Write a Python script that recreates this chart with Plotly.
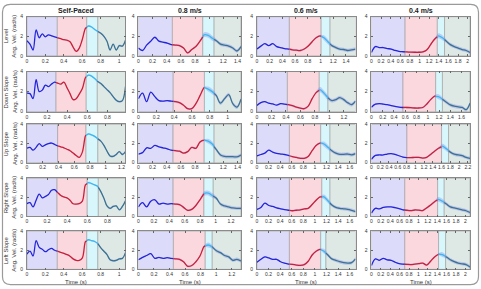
import numpy as np
import plotly.graph_objects as go

W, H = 481, 289

CONDITIONS = ["Self-Paced", "0.8 m/s", "0.6 m/s", "0.4 m/s"]
SURFACES = ["Level", "Down Slope", "Up Slope", "Right Slope", "Left Slope"]

# trial duration shown on x axis (s), per condition
XMAX_LEVEL = [1.07, 1.45, 1.55, 2.05]
XMAX_DOWN = [0.98, 1.15, 1.36, 1.75]
XMAX_UP = [1.25, 1.45, 1.70, 2.25]
XMAX_RIGHT = [0.98, 1.33, 1.70, 2.10]
XMAX_LEFT = [1.07, 1.32, 1.70, 2.10]

# phase boundaries (s): start of red, cyan and grey phases
PHASES_LEVEL = [[0.33, 0.65, 0.77], [0.48, 0.91, 1.07], [0.51, 1.01, 1.15], [0.70, 1.37, 1.52]]
PHASES_DOWN = [[0.29, 0.59, 0.70], [0.39, 0.74, 0.85], [0.42, 0.86, 0.98], [0.56, 1.14, 1.26]]
PHASES_UP = [[0.39, 0.75, 0.90], [0.49, 0.93, 1.07], [0.56, 1.10, 1.26], [0.81, 1.60, 1.76]]
PHASES_RIGHT = [[0.30, 0.60, 0.71], [0.45, 0.85, 0.97], [0.56, 1.12, 1.26], [0.71, 1.41, 1.55]]
PHASES_LEFT = [[0.33, 0.65, 0.77], [0.45, 0.86, 0.95], [0.56, 1.10, 1.19], [0.71, 1.43, 1.58]]

# mean angular velocity (rad/s), evenly spaced samples over each trial
LEVEL_SELF = [1.55, 1.2, 0.6, 2.65, 1.85, 2.25, 1.95, 2.15, 2.05, 1.95, 1.85, 1.75, 1.65, 1.6, 1.45, 0.9, 0.45,
              0.8, 1.7, 2.8, 3.05, 2.95, 2.7, 2.5, 2.3, 2.0, 1.5, 0.6, 1.2, 0.6, 1.05, 1.0, 1.6]
LEVEL_08 = [0.8, 0.55, 1.1, 1.5, 1.9, 1.5, 1.4, 1.3, 1.15, 1.1, 1.05, 0.8, 0.3, 0.65, 0.95, 1.5, 2.15, 2.1, 1.8,
            1.55, 1.2, 1.1, 1.0, 0.8, 0.5, 0.95]
LEVEL_06 = [0.7, 1.0, 1.25, 1.05, 1.25, 0.95, 0.85, 0.75, 0.7, 0.62, 0.58, 0.55, 0.7, 1.0, 1.45, 1.85, 2.05, 1.85,
            1.45, 1.05, 0.85, 0.7, 0.65, 0.55, 0.62, 0.7]
LEVEL_04 = [0.35, 0.95, 0.85, 0.85, 0.75, 0.7, 0.55, 0.45, 0.42, 0.4, 0.38, 0.37, 0.37, 0.4, 0.6, 1.15, 1.7, 2.05,
            1.85, 1.5, 1.15, 0.95, 0.8, 0.65, 0.55, 0.35]

DOWN_SELF = [1.85, 1.8, 1.3, 3.2, 2.0, 2.15, 2.65, 2.5, 2.75, 2.95, 2.85, 2.75, 2.95, 2.4, 1.8, 1.2, 1.3, 1.75, 2.3,
             3.4, 3.65, 3.55, 3.3, 3.0, 2.8, 2.5, 2.2, 1.9, 1.5, 1.15, 1.0, 1.1, 2.5]
DOWN_08 = [1.3, 1.85, 1.0, 1.95, 1.5, 1.1, 1.05, 1.1, 1.05, 1.0, 0.9, 0.65, 0.3, 0.3, 0.8, 1.6, 2.4, 2.25, 2.0, 1.6,
           0.85, 1.3, 1.7, 0.8, 0.45, 1.25]
DOWN_06 = [0.62, 0.9, 1.0, 0.85, 0.78, 0.65, 0.8, 0.75, 0.7, 0.6, 0.45, 0.35, 0.3, 0.55, 1.3, 1.9, 2.2, 1.85, 1.4,
           1.1, 1.2, 1.4, 1.2, 0.9, 0.7, 1.05]
DOWN_04 = [0.45, 0.75, 0.8, 0.75, 0.7, 0.6, 0.52, 0.45, 0.42, 0.42, 0.4, 0.37, 0.37, 0.42, 0.75, 1.2, 1.55, 1.5,
           1.25, 0.95, 0.68, 0.55, 0.48, 0.42, 0.2, 0.85]

UP_SELF = [1.5, 1.6, 1.3, 1.6, 2.0, 1.7, 1.85, 2.0, 2.05, 1.9, 1.75, 1.65, 1.55, 1.4, 1.25, 1.0, 0.75, 0.55, 1.1,
           2.8, 3.0, 2.9, 2.75, 2.5, 2.25, 1.8, 1.2, 0.7, 0.65, 0.85, 1.15, 0.85, 1.15]
UP_08 = [0.9, 1.05, 1.55, 1.5, 1.8, 1.65, 1.55, 1.45, 1.3, 1.25, 1.2, 1.0, 1.15, 1.6, 1.5, 2.15, 2.35, 2.25, 1.95,
         1.35, 0.8, 0.65, 0.62, 0.62, 0.6, 0.8]
UP_06 = [0.7, 0.85, 1.0, 1.3, 1.1, 0.97, 0.9, 0.85, 0.75, 0.62, 0.55, 0.45, 0.45, 0.65, 1.25, 1.8, 2.05, 1.95, 1.6,
         1.25, 1.0, 0.87, 0.87, 0.9, 0.82, 0.95]
UP_04 = [0.35, 0.75, 0.8, 0.8, 0.9, 0.95, 0.85, 0.72, 0.58, 0.52, 0.52, 0.55, 0.55, 0.48, 0.55, 0.85, 1.2, 1.5, 1.72,
         1.45, 1.1, 0.88, 0.8, 0.72, 0.55, 0.45]

RIGHT_SELF = [1.35, 1.45, 1.0, 1.7, 2.35, 1.95, 2.1, 2.3, 2.75, 2.8, 2.5, 2.2, 2.05, 1.95, 1.7, 1.33, 1.3, 1.35, 1.6,
              3.3, 3.55, 3.45, 3.3, 3.15, 2.6, 1.9, 1.1, 0.85, 1.05, 1.1, 0.7, 1.05, 1.65]
RIGHT_08 = [1.0, 1.45, 1.0, 1.6, 1.75, 1.3, 1.4, 1.3, 1.35, 1.3, 1.25, 0.95, 0.65, 0.75, 1.15, 1.75, 2.4, 2.45, 2.2,
            1.9, 1.3, 1.1, 1.0, 0.9, 0.85, 0.85]
RIGHT_06 = [0.75, 0.95, 1.4, 1.15, 1.05, 0.9, 0.8, 0.72, 0.65, 0.6, 0.65, 0.7, 0.8, 0.85, 1.25, 1.7, 2.05, 2.05, 1.65,
            1.2, 0.95, 0.85, 0.8, 0.75, 0.65, 0.52]
RIGHT_04 = [0.35, 0.85, 0.8, 0.95, 1.0, 1.0, 0.92, 0.82, 0.7, 0.65, 0.62, 0.68, 0.66, 0.62, 0.9, 1.2, 1.55, 1.8, 1.6,
            1.3, 1.0, 0.9, 0.8, 0.7, 0.6, 0.42]

LEFT_SELF = [1.6, 1.9, 1.4, 3.0, 2.3, 2.1, 1.85, 2.05, 2.2, 2.0, 1.9, 1.78, 1.68, 1.55, 1.38, 1.1, 0.95, 0.93, 1.2,
             2.9, 3.1, 3.0, 2.92, 2.7, 2.25, 1.9, 1.55, 1.0, 0.9, 0.95, 1.1, 1.15, 1.75]
LEFT_08 = [1.0, 1.25, 1.45, 1.65, 1.15, 1.25, 1.15, 1.22, 1.15, 1.1, 1.05, 0.8, 0.32, 0.4, 0.8, 1.4, 2.4, 2.55, 2.35,
           1.95, 1.75, 1.45, 1.3, 0.95, 1.05, 0.87]
LEFT_06 = [0.75, 1.05, 1.3, 1.2, 1.05, 1.05, 0.8, 0.65, 0.55, 0.52, 0.45, 0.42, 0.5, 0.85, 1.5, 1.9, 2.1, 1.9, 1.5,
           1.1, 0.95, 0.8, 0.7, 0.65, 0.7, 1.1]
LEFT_04 = [0.4, 1.1, 0.95, 1.15, 1.0, 0.95, 0.75, 0.6, 0.55, 0.52, 0.5, 0.55, 0.6, 0.65, 0.45, 0.85, 1.3, 1.58, 1.55,
           1.3, 1.0, 0.8, 0.65, 0.58, 0.5, 0.25]

# spread (rad/s) of the shaded band in each phase
BAND_SELF = [0.03, 0.05, 0.08, 0.10]
BAND_TREADMILL = [0.05, 0.10, 0.25, 0.18]

CURVES = [
    [LEVEL_SELF, LEVEL_08, LEVEL_06, LEVEL_04],
    [DOWN_SELF, DOWN_08, DOWN_06, DOWN_04],
    [UP_SELF, UP_08, UP_06, UP_04],
    [RIGHT_SELF, RIGHT_08, RIGHT_06, RIGHT_04],
    [LEFT_SELF, LEFT_08, LEFT_06, LEFT_04],
]
XMAXES = [XMAX_LEVEL, XMAX_DOWN, XMAX_UP, XMAX_RIGHT, XMAX_LEFT]
PHASES = [PHASES_LEVEL, PHASES_DOWN, PHASES_UP, PHASES_RIGHT, PHASES_LEFT]

# ---- styling / layout ----
FONT = "Liberation Sans, Arial, sans-serif"
PHASE_FILL = ["rgba(220,220,250,1)", "rgba(250,216,222,1)", "rgba(216,247,252,1)", "rgba(222,233,229,1)"]
PHASE_LINE = ["#2424d8", "#c8203a", "#3ab8ee", "#3a7292"]
BAND_COLOR = "rgba(130,130,235,0.35)"
COL_PX = [(26, 125), (138, 241), (257, 356), (372, 471)]
ROW_PX = [(14, 54), (70, 111), (124, 163), (179, 218), (233, 272)]


def px_x(v):
    return v / W


def px_y(v):
    return 1 - v / H


fig = go.Figure()
layout = dict(width=W, height=H, margin=dict(l=0, r=0, t=0, b=0), paper_bgcolor="white",
              plot_bgcolor="white", showlegend=False, font=dict(family=FONT, color="#333"))
shapes = []
annotations = []

for r in range(5):
    for c in range(4):
        i = r * 4 + c + 1
        sfx = "" if i == 1 else str(i)
        xmax = XMAXES[r][c]
        bounds = PHASES[r][c]
        y = np.array(CURVES[r][c], dtype=float)
        x = np.linspace(0, xmax, len(y))
        edges = [0.0] + list(bounds) + [xmax]
        sd_phase = BAND_SELF if c == 0 else BAND_TREADMILL

        layout[f"xaxis{sfx}"] = dict(
            domain=[px_x(COL_PX[c][0]), px_x(COL_PX[c][1])], anchor=f"y{sfx}", range=[0, xmax],
            tick0=0, dtick=0.2, tickangle=0, ticks="inside", ticklen=2, tickwidth=0.5, tickcolor="#666",
            showline=True, mirror="ticks", linecolor="#8a8a8a", linewidth=0.7, showgrid=False,
            zeroline=False, tickfont=dict(size=5, color="#333", family=FONT), ticklabelstandoff=0,
        )
        layout[f"yaxis{sfx}"] = dict(
            domain=[px_y(ROW_PX[r][1]), px_y(ROW_PX[r][0])], anchor=f"x{sfx}", range=[0, 4],
            tickvals=[0, 2, 4], tickangle=0, ticks="inside", ticklen=2, tickwidth=0.5, tickcolor="#666",
            showline=True, mirror="ticks", linecolor="#8a8a8a", linewidth=0.7, showgrid=False,
            zeroline=False, tickfont=dict(size=5, color="#333", family=FONT), ticklabelstandoff=2,
        )

        for k in range(4):
            shapes.append(dict(type="rect", xref=f"x{sfx}", yref=f"y{sfx} domain", x0=edges[k], x1=edges[k + 1],
                               y0=0, y1=1, fillcolor=PHASE_FILL[k], layer="below",
                               line=dict(color="rgba(140,140,140,0.8)", width=0.6)))

        # band
        phase_idx = np.searchsorted(np.array(bounds), x, side="right")
        sd = np.array([sd_phase[p] for p in phase_idx])
        fig.add_trace(go.Scatter(x=x, y=y - sd, mode="lines", line=dict(width=0, shape="spline"),
                                 xaxis=f"x{sfx}", yaxis=f"y{sfx}", hoverinfo="skip"))
        fig.add_trace(go.Scatter(x=x, y=y + sd, mode="lines", line=dict(width=0, shape="spline"),
                                 fill="tonexty", fillcolor=BAND_COLOR,
                                 xaxis=f"x{sfx}", yaxis=f"y{sfx}", hoverinfo="skip"))

        # coloured mean curve, one segment per phase
        for k in range(4):
            a, b = edges[k], edges[k + 1]
            m = (x > a) & (x < b)
            xs = np.concatenate([[a], x[m], [b]])
            ys = np.interp(xs, x, y)
            fig.add_trace(go.Scatter(x=xs, y=ys, mode="lines",
                                     line=dict(color=PHASE_LINE[k], width=1.3, shape="spline"),
                                     xaxis=f"x{sfx}", yaxis=f"y{sfx}"))


def note(xp, yp, text, size, angle=0, color="#333"):
    annotations.append(dict(x=px_x(xp), y=px_y(yp), xref="paper", yref="paper", text=text, textangle=angle,
                            xanchor="center", yanchor="middle", showarrow=False,
                            font=dict(size=size, color=color, family=FONT)))


# column titles and x titles
for c, name in enumerate(CONDITIONS):
    xc = (COL_PX[c][0] + COL_PX[c][1]) / 2
    note(xc, 8, f"<b>{name}</b>", 7, color="#222")
    note(xc, 284.5, "Time (s)", 6)

# row labels
for r, name in enumerate(SURFACES):
    yc = (ROW_PX[r][0] + ROW_PX[r][1]) / 2
    note(5, yc, name, 6, angle=-90)
    note(13.5, yc, "Ang. Vel. (rad/s)", 6, angle=-90)

# rounded frame
x0, x1, y0, y1, rr = 1.5, W - 1.5, 1.5, H - 1.5, 8
pts = (f"M {px_x(x0 + rr)},{px_y(y0)} L {px_x(x1 - rr)},{px_y(y0)} Q {px_x(x1)},{px_y(y0)} {px_x(x1)},{px_y(y0 + rr)} "
       f"L {px_x(x1)},{px_y(y1 - rr)} Q {px_x(x1)},{px_y(y1)} {px_x(x1 - rr)},{px_y(y1)} "
       f"L {px_x(x0 + rr)},{px_y(y1)} Q {px_x(x0)},{px_y(y1)} {px_x(x0)},{px_y(y1 - rr)} "
       f"L {px_x(x0)},{px_y(y0 + rr)} Q {px_x(x0)},{px_y(y0)} {px_x(x0 + rr)},{px_y(y0)} Z")
shapes.append(dict(type="path", xref="paper", yref="paper", path=pts, line=dict(color="#9a9a9a", width=1.2)))

layout["shapes"] = shapes
layout["annotations"] = annotations
fig.update_layout(**layout)
fig.write_html("out.html")
